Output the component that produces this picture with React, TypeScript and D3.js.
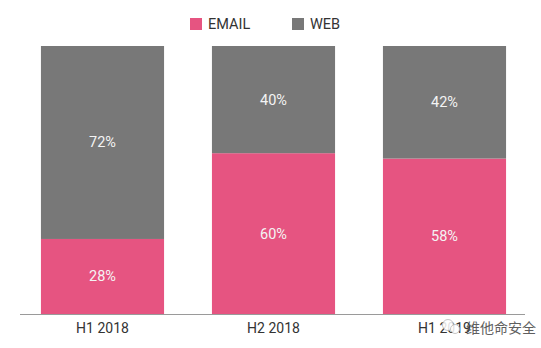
import * as React from 'react';
import * as d3 from 'd3';

const periods = ['H1 2018', 'H2 2018', 'H1 2019'];
const emailShare = [28, 60, 58];
const webShare = [72, 40, 42];
const seriesNames = ['EMAIL', 'WEB'];
const seriesColors = ['#e65481', '#787878'];

const width = 541;
const height = 348;
const plotTop = 46;
const plotBottom = 314;

export default function App() {
  const x = d3.scaleBand<string>()
    .domain(periods)
    .range([17, 530])
    .paddingInner(0.28)
    .paddingOuter(0.14);
  const y = d3.scaleLinear().domain([0, 100]).range([plotBottom, plotTop]);

  const rows = periods.map((p, i) => ({ period: p, EMAIL: emailShare[i], WEB: webShare[i] }));
  const stacked = d3.stack<any>().keys(seriesNames)(rows);

  const font = 'Roboto, "DejaVu Sans", sans-serif';

  return (
    <svg width={width} height={height}
      style={{ position: 'absolute', left: 0, top: 0, background: '#fff' }}>
      {/* legend */}
      {seriesNames.map((name, i) => {
        const lx = 190 + i * 102;
        return (
          <g key={name} transform={`translate(${lx},18)`}>
            <rect width={12} height={12} fill={seriesColors[i]} />
            <text x={18} y={11} fontFamily={font} fontSize={14.5} fill="#333">{name}</text>
          </g>
        );
      })}

      {/* stacked bars */}
      {stacked.map((layer, si) => (
        <g key={layer.key}>
          {layer.map((d, i) => {
            const bx = x(periods[i])!;
            const y0 = y(d[1]);
            const y1 = y(d[0]);
            return (
              <g key={i}>
                <rect x={bx} y={y0} width={x.bandwidth()} height={y1 - y0} fill={seriesColors[si]} />
                <text x={bx + x.bandwidth() / 2} y={(y0 + y1) / 2 + 5}
                  textAnchor="middle" fontFamily={font} fontSize={14.5} fill="#f4f4f4">
                  {`${d[1] - d[0]}%`}
                </text>
              </g>
            );
          })}
        </g>
      ))}

      {/* baseline */}
      <line x1={20} x2={525} y1={plotBottom + 0.5} y2={plotBottom + 0.5} stroke="#9a9a9a" strokeWidth={1} />

      {/* category labels */}
      {periods.map((p) => (
        <text key={p} x={x(p)! + x.bandwidth() / 2} y={333} textAnchor="middle"
          fontFamily={font} fontSize={14} fill="#333">{p}</text>
      ))}

      {/* channel watermark */}
      <g transform="translate(448,318)" opacity={0.85}>
        <circle cx={0} cy={7} r={5.5} fill="#fff" stroke="#bbb" strokeWidth={1} />
        <circle cx={7} cy={11} r={4.5} fill="#fff" stroke="#bbb" strokeWidth={1} />
        <text x={18} y={15} fontFamily='"Noto Sans CJK SC", sans-serif' fontSize={14} fill="#444">维他命安全</text>
      </g>
    </svg>
  );
}
